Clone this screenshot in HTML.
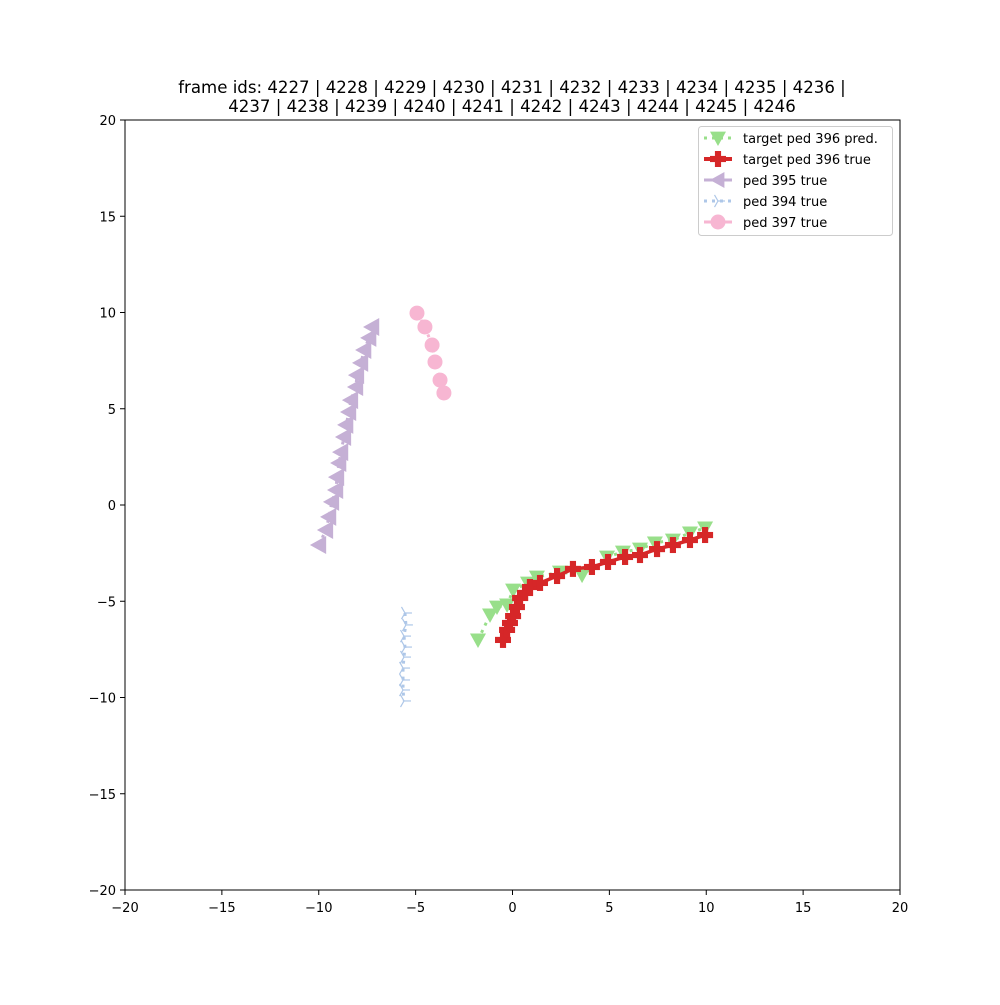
<!DOCTYPE html>
<html><head><meta charset="utf-8"><style>
body{margin:0;background:#fff;}
svg text{font-family:"DejaVu Sans","Liberation Sans",sans-serif;}
</style></head><body>
<svg id="chart" width="1000" height="1000" xmlns="http://www.w3.org/2000/svg">
<rect width="1000" height="1000" fill="#fff"/>
<text x="512" y="93" font-size="16.6" text-anchor="middle">frame ids: 4227 | 4228 | 4229 | 4230 | 4231 | 4232 | 4233 | 4234 | 4235 | 4236 |</text>
<text x="512" y="112" font-size="16.6" text-anchor="middle">4237 | 4238 | 4239 | 4240 | 4241 | 4242 | 4243 | 4244 | 4245 | 4246</text>
<g id="plot"></g>
<rect x="125" y="120" width="775" height="770" fill="none" stroke="#000" stroke-width="1"/>
<g id="axes"></g>
<g id="legend"></g>
</svg>
<script>
const xTicks=[-20,-15,-10,-5,0,5,10,15,20];
const yTicks=[-20,-15,-10,-5,0,5,10,15,20];
const predX=[-1.78,-1.16,-0.80,-0.28,0.03,0.80,1.26,2.45,3.59,4.88,5.70,6.58,7.35,8.28,9.16,9.94];
const predY=[-7.01,-5.71,-5.30,-5.19,-4.42,-4.05,-3.74,-3.48,-3.64,-2.70,-2.44,-2.29,-1.97,-1.82,-1.45,-1.19];
const trueX=[-0.49,-0.28,-0.13,0.03,0.23,0.39,0.65,0.90,1.42,2.30,3.12,4.10,4.93,5.81,6.58,7.46,8.28,9.16,9.94];
const trueY=[-7.01,-6.49,-6.13,-5.77,-5.30,-4.83,-4.57,-4.26,-4.05,-3.69,-3.32,-3.22,-2.96,-2.70,-2.60,-2.29,-2.08,-1.82,-1.56];
const p395X=[-9.99,-9.63,-9.47,-9.32,-9.11,-9.06,-8.95,-8.85,-8.70,-8.59,-8.44,-8.34,-8.08,-8.03,-7.82,-7.66,-7.40,-7.25];
const p395Y=[-2.08,-1.30,-0.62,0.16,0.78,1.45,2.18,2.75,3.53,4.16,4.83,5.45,6.13,6.75,7.38,8.05,8.68,9.25];
const p394X=[-5.55,-5.50,-5.60,-5.55,-5.60,-5.65,-5.65,-5.65,-5.60];
const p394Y=[-5.61,-6.23,-6.81,-7.38,-7.90,-8.47,-9.09,-9.61,-10.18];
const p397X=[-4.93,-4.52,-4.15,-4.00,-3.74,-3.54];
const p397Y=[9.97,9.25,8.31,7.43,6.49,5.82];

const NS="http://www.w3.org/2000/svg";
const sx=v=>125+(v+20)*775/40;
const sy=v=>890-(v+20)*770/40;
function mk(tag,attrs,parent){const e=document.createElementNS(NS,tag);for(const k in attrs)e.setAttribute(k,attrs[k]);parent.appendChild(e);return e;}
const plot=document.getElementById('plot'),axes=document.getElementById('axes'),leg=document.getElementById('legend');

xTicks.forEach(t=>{
  const g=mk('g',{},axes);
  
  
  mk('line',{x1:sx(t),x2:sx(t),y1:890,y2:895,stroke:'#000'},g);
  const tx=mk('text',{x:sx(t),y:912,'font-size':13,'text-anchor':'middle'},g);tx.textContent=(t<0?'\u2212'+(-t):t);
});
yTicks.forEach(t=>{
  const g=mk('g',{},axes);
  
  
  mk('line',{x1:120,x2:125,y1:sy(t),y2:sy(t),stroke:'#000'},g);
  const tx=mk('text',{x:116,y:sy(t)+5,'font-size':13,'text-anchor':'end'},g);tx.textContent=(t<0?'\u2212'+(-t):t);
});

function tri(cx,cy,s,dir){
  if(dir==='down')return `${cx-s},${cy-s*0.8} ${cx+s},${cy-s*0.8} ${cx},${cy+s}`;
  return `${cx+s*0.8},${cy-s} ${cx+s*0.8},${cy+s} ${cx-s},${cy}`;
}
function plus(g,cx,cy,s,col){
  mk('rect',{x:cx-s,y:cy-s/2.6,width:2*s,height:s/1.3,fill:col},g);
  mk('rect',{x:cx-s/2.6,y:cy-s,width:s/1.3,height:2*s,fill:col},g);
}
function triRight(g,cx,cy,s,col){
  mk('line',{x1:cx,y1:cy,x2:cx+s,y2:cy,stroke:col,'stroke-width':1.2},g);
  mk('line',{x1:cx,y1:cy,x2:cx-s*0.5,y2:cy-s*0.87,stroke:col,'stroke-width':1.2},g);
  mk('line',{x1:cx,y1:cy,x2:cx-s*0.5,y2:cy+s*0.87,stroke:col,'stroke-width':1.2},g);
}
function pts(X,Y){return X.map((x,i)=>sx(x)+','+sy(Y[i])).join(' ');}

let g=mk('g',{},plot);


mk('polyline',{points:pts(p394X,p394Y),fill:'none',stroke:'#aec7e8','stroke-width':3,'stroke-dasharray':'3,5'},g);
p394X.forEach((x,i)=>triRight(g,sx(x),sy(p394Y[i]),7,'#aec7e8'));
g=mk('g',{},plot);


mk('polyline',{points:pts(p395X,p395Y),fill:'none',stroke:'#c5b0d5','stroke-width':3,'stroke-dasharray':'3,5'},g);
p395X.forEach((x,i)=>mk('polygon',{points:tri(sx(x),sy(p395Y[i]),9,'left'),fill:'#c5b0d5'},g));
g=mk('g',{},plot);


mk('polyline',{points:pts(p397X,p397Y),fill:'none',stroke:'#f7b6d2','stroke-width':3,'stroke-dasharray':'3,5'},g);
p397X.forEach((x,i)=>mk('circle',{cx:sx(x),cy:sy(p397Y[i]),r:7.5,fill:'#f7b6d2'},g));
g=mk('g',{},plot);


mk('polyline',{points:pts(predX,predY),fill:'none',stroke:'#98df8a','stroke-width':3,'stroke-dasharray':'3,5'},g);
predX.forEach((x,i)=>mk('polygon',{points:tri(sx(x),sy(predY[i]),8,'down'),fill:'#98df8a'},g));
g=mk('g',{},plot);


mk('polyline',{points:pts(trueX,trueY),fill:'none',stroke:'#d62728','stroke-width':3.5},g);
trueX.forEach((x,i)=>plus(g,sx(x),sy(trueY[i]),8,'#d62728'));

mk('rect',{x:698.5,y:126.5,width:194,height:109,rx:3,fill:'#fff',stroke:'#ccc'},leg);
const labels=['target ped 396 pred.','target ped 396 true','ped 395 true','ped 394 true','ped 397 true'];
const cols=['#98df8a','#d62728','#c5b0d5','#aec7e8','#f7b6d2'];
labels.forEach((l,i)=>{
  const y=138+i*21, cx=718;
  const e=mk('g',{},leg);
  
  
  const solid=i===1||i===2||i===4;
  mk('line',{x1:704,x2:732,y1:y,y2:y,stroke:cols[i],'stroke-width':i===1?4:3,'stroke-dasharray':solid?'none':'3,5'},e);
  if(i===0)mk('polygon',{points:tri(cx,y,8,'down'),fill:cols[i]},e);
  if(i===1)plus(e,cx,y,8,cols[i]);
  if(i===2)mk('polygon',{points:tri(cx,y,8,'left'),fill:cols[i]},e);
  if(i===3)triRight(e,cx,y,7,cols[i]);
  if(i===4)mk('circle',{cx:cx,cy:y,r:7.5,fill:cols[i]},e);
  const t=mk('text',{x:743,y:y+5,'font-size':13},e);t.textContent=l;
});
</script>
</body></html>
